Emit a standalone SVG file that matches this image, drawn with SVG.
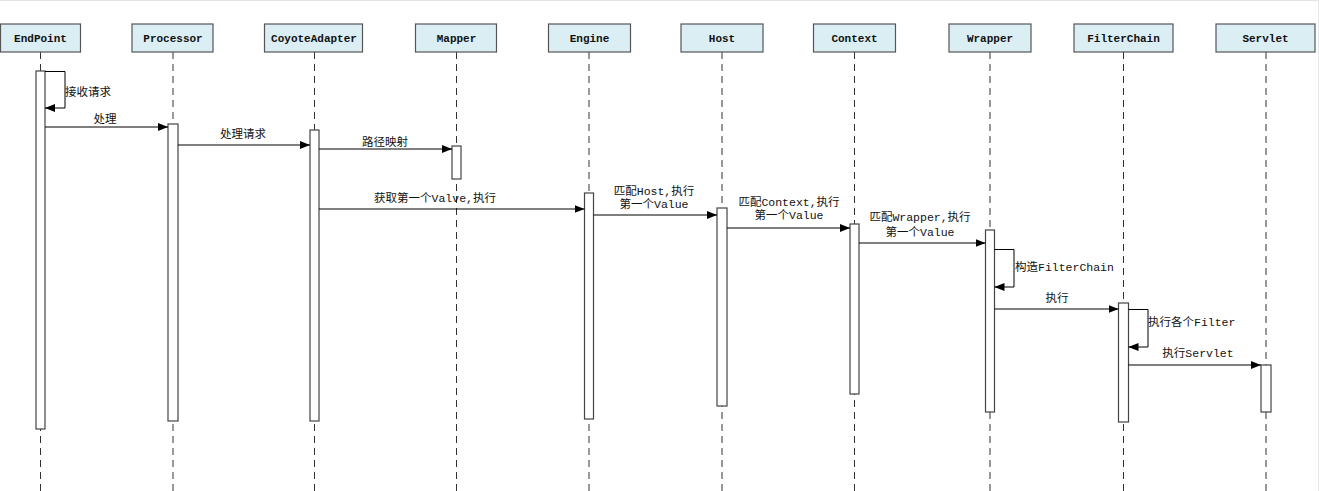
<svg xmlns="http://www.w3.org/2000/svg" width="1319" height="491" viewBox="0 0 1319 491">
<defs>
<marker id="ah" markerWidth="10" markerHeight="8" refX="10" refY="4" orient="auto" markerUnits="userSpaceOnUse">
<path d="M0,0 L10,4 L0,8 Z" fill="#000"/>
</marker>
<style>
.hdr{fill:#dbeef4;stroke:#555;stroke-width:1.2}
.ht{font-family:"Liberation Mono","Noto Sans CJK SC",monospace;font-weight:bold;font-size:11px;fill:#111;text-anchor:middle}
.life{stroke:#333;stroke-width:1;stroke-dasharray:7 5;fill:none}
.act{fill:#fff;stroke:#444;stroke-width:1.2}
.msg{stroke:#000;stroke-width:1;fill:none;marker-end:url(#ah)}
.lbl{font-family:"Liberation Mono","Noto Sans CJK SC",monospace;font-size:11.5px;fill:#111}
.c{text-anchor:middle}
</style>
</defs>
<rect width="1319" height="491" fill="#fff"/>
<line x1="0" y1="0.5" x2="1319" y2="0.5" stroke="#e4e4e4"/>
<line x1="1318.5" y1="0" x2="1318.5" y2="491" stroke="#e8e8e8"/>

<g id="lifelines">
<line class="life" x1="40.5" y1="52" x2="40.5" y2="491"/>
<line class="life" x1="173" y1="52" x2="173" y2="491"/>
<line class="life" x1="314.5" y1="52" x2="314.5" y2="491"/>
<line class="life" x1="456.5" y1="52" x2="456.5" y2="491"/>
<line class="life" x1="589" y1="52" x2="589" y2="491"/>
<line class="life" x1="722" y1="52" x2="722" y2="491"/>
<line class="life" x1="854.5" y1="52" x2="854.5" y2="491"/>
<line class="life" x1="990" y1="52" x2="990" y2="491"/>
<line class="life" x1="1123.5" y1="52" x2="1123.5" y2="491"/>
<line class="life" x1="1266" y1="52" x2="1266" y2="491"/>
</g>

<g id="EndPoint"><rect class="hdr" x="0.5" y="24" width="80" height="28"/><text class="ht" x="40.5" y="41.5">EndPoint</text><rect class="act" x="36" y="71" width="9" height="358"/></g>
<g id="Processor"><rect class="hdr" x="132" y="24" width="81" height="28"/><text class="ht" x="173" y="41.5">Processor</text><rect class="act" x="168" y="124" width="10" height="297"/></g>
<g id="CoyoteAdapter"><rect class="hdr" x="264.5" y="24" width="98" height="28"/><text class="ht" x="314" y="41.5">CoyoteAdapter</text><rect class="act" x="310" y="130" width="9" height="291"/></g>
<g id="Mapper"><rect class="hdr" x="415.5" y="24" width="81" height="28"/><text class="ht" x="456.5" y="41.5">Mapper</text><rect class="act" x="452" y="146" width="9" height="33"/></g>
<g id="Engine"><rect class="hdr" x="548.5" y="24" width="82" height="28"/><text class="ht" x="589.5" y="41.5">Engine</text><rect class="act" x="584.5" y="193" width="9" height="226"/></g>
<g id="Host"><rect class="hdr" x="681" y="24" width="82" height="28"/><text class="ht" x="722" y="41.5">Host</text><rect class="act" x="717" y="208" width="10" height="198"/></g>
<g id="Context"><rect class="hdr" x="813.5" y="24" width="82" height="28"/><text class="ht" x="854.5" y="41.5">Context</text><rect class="act" x="850" y="224" width="9" height="170"/></g>
<g id="Wrapper"><rect class="hdr" x="949" y="24" width="82" height="28"/><text class="ht" x="990" y="41.5">Wrapper</text><rect class="act" x="985.5" y="230" width="9" height="182"/></g>
<g id="FilterChain"><rect class="hdr" x="1074" y="24" width="99" height="28"/><text class="ht" x="1123.5" y="41.5">FilterChain</text><rect class="act" x="1118.5" y="303" width="10" height="119"/></g>
<g id="Servlet"><rect class="hdr" x="1216" y="24" width="99" height="28"/><text class="ht" x="1265.5" y="41.5">Servlet</text><rect class="act" x="1261" y="365" width="10" height="47"/></g>

<g id="connectors">
<path class="msg" d="M45,71.5 H65 V108 H45"/>
<line class="msg" x1="45" y1="127" x2="168" y2="127"/>
<line class="msg" x1="178" y1="145" x2="310" y2="145"/>
<line class="msg" x1="319" y1="149" x2="452" y2="149"/>
<line class="msg" x1="319" y1="209" x2="584.5" y2="209"/>
<line class="msg" x1="593.5" y1="215" x2="717" y2="215"/>
<line class="msg" x1="727" y1="228" x2="850" y2="228"/>
<line class="msg" x1="859" y1="243" x2="985.5" y2="243"/>
<path class="msg" d="M994.5,249.5 H1014 V287 H994.5"/>
<line class="msg" x1="994.5" y1="309" x2="1118.5" y2="309"/>
<path class="msg" d="M1128.5,309.5 H1148 V347 H1128.5"/>
<line class="msg" x1="1128.5" y1="365" x2="1261" y2="365"/>
</g>

<g id="labels">
<text class="lbl" x="65" y="96">接收请求</text>
<text class="lbl c" x="105" y="123">处理</text>
<text class="lbl c" x="243" y="138">处理请求</text>
<text class="lbl c" x="385" y="146">路径映射</text>
<text class="lbl c" x="435" y="202">获取第一个Valve,执行</text>
<text class="lbl c" x="654" y="195">匹配Host,执行</text>
<text class="lbl c" x="654" y="208">第一个Value</text>
<text class="lbl c" x="789" y="206">匹配Context,执行</text>
<text class="lbl c" x="789" y="219">第一个Value</text>
<text class="lbl c" x="920" y="221">匹配Wrapper,执行</text>
<text class="lbl c" x="920" y="236">第一个Value</text>
<text class="lbl" x="1015" y="271">构造FilterChain</text>
<text class="lbl c" x="1057" y="302">执行</text>
<text class="lbl" x="1148" y="326">执行各个Filter</text>
<text class="lbl c" x="1198" y="357">执行Servlet</text>
</g>
</svg>
